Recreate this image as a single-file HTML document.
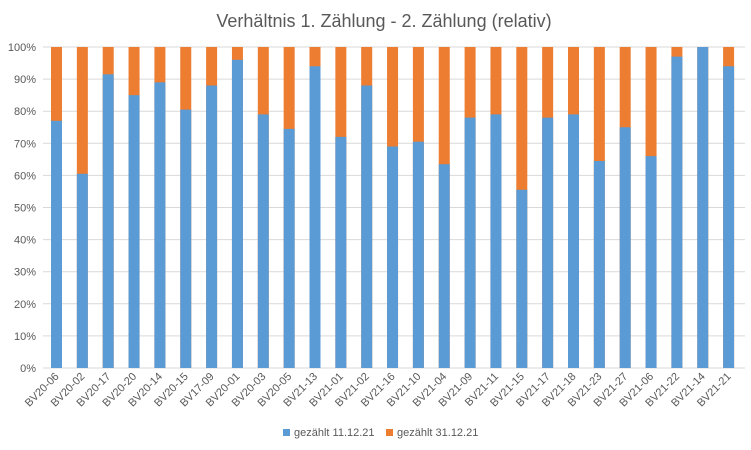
<!DOCTYPE html><html><head><style>body{margin:0;background:#fff}svg{display:block}</style></head><body>
<svg width="751" height="450" xmlns="http://www.w3.org/2000/svg" font-family="Liberation Sans, sans-serif">
<rect width="751" height="450" fill="#fff"/>
<text x="384" y="27" text-anchor="middle" font-size="18" fill="#595959">Verhältnis 1. Zählung - 2. Zählung (relativ)</text>
<g stroke="#d9d9d9">
<line x1="43" x2="745" y1="368" y2="368"/><line x1="43" x2="745" y1="335.9" y2="335.9"/><line x1="43" x2="745" y1="303.8" y2="303.8"/><line x1="43" x2="745" y1="271.7" y2="271.7"/><line x1="43" x2="745" y1="239.6" y2="239.6"/><line x1="43" x2="745" y1="207.5" y2="207.5"/><line x1="43" x2="745" y1="175.4" y2="175.4"/><line x1="43" x2="745" y1="143.3" y2="143.3"/><line x1="43" x2="745" y1="111.2" y2="111.2"/><line x1="43" x2="745" y1="79.1" y2="79.1"/><line x1="43" x2="745" y1="47" y2="47"/>
</g>
<g font-size="11" fill="#595959" text-anchor="end">
<text x="36" y="372">0%</text><text x="36" y="339.9">10%</text><text x="36" y="307.8">20%</text><text x="36" y="275.7">30%</text><text x="36" y="243.6">40%</text><text x="36" y="211.5">50%</text><text x="36" y="179.4">60%</text><text x="36" y="147.3">70%</text><text x="36" y="115.2">80%</text><text x="36" y="83.1">90%</text><text x="36" y="51">100%</text>
</g>
<g fill="#ED7D31">
<rect x="51" y="47" width="11" height="321"/><rect x="76.85" y="47" width="11" height="321"/><rect x="102.7" y="47" width="11" height="321"/><rect x="128.55" y="47" width="11" height="321"/><rect x="154.4" y="47" width="11" height="321"/><rect x="180.25" y="47" width="11" height="321"/><rect x="206.1" y="47" width="11" height="321"/><rect x="231.95" y="47" width="11" height="321"/><rect x="257.8" y="47" width="11" height="321"/><rect x="283.65" y="47" width="11" height="321"/><rect x="309.5" y="47" width="11" height="321"/><rect x="335.35" y="47" width="11" height="321"/><rect x="361.2" y="47" width="11" height="321"/><rect x="387.05" y="47" width="11" height="321"/><rect x="412.9" y="47" width="11" height="321"/><rect x="438.75" y="47" width="11" height="321"/><rect x="464.6" y="47" width="11" height="321"/><rect x="490.45" y="47" width="11" height="321"/><rect x="516.3" y="47" width="11" height="321"/><rect x="542.15" y="47" width="11" height="321"/><rect x="568" y="47" width="11" height="321"/><rect x="593.85" y="47" width="11" height="321"/><rect x="619.7" y="47" width="11" height="321"/><rect x="645.55" y="47" width="11" height="321"/><rect x="671.4" y="47" width="11" height="321"/><rect x="697.25" y="47" width="11" height="321"/><rect x="723.1" y="47" width="11" height="321"/>
</g>
<g fill="#5B9BD5">
<rect x="51" y="120.83" width="11" height="247.17"/><rect x="76.85" y="173.8" width="11" height="194.2"/><rect x="102.7" y="74.3" width="11" height="293.7"/><rect x="128.55" y="95.15" width="11" height="272.85"/><rect x="154.4" y="82.31" width="11" height="285.69"/><rect x="180.25" y="109.6" width="11" height="258.4"/><rect x="206.1" y="85.52" width="11" height="282.48"/><rect x="231.95" y="59.84" width="11" height="308.16"/><rect x="257.8" y="114.41" width="11" height="253.59"/><rect x="283.65" y="128.9" width="11" height="239.1"/><rect x="309.5" y="66.26" width="11" height="301.74"/><rect x="335.35" y="136.88" width="11" height="231.12"/><rect x="361.2" y="85.52" width="11" height="282.48"/><rect x="387.05" y="146.51" width="11" height="221.49"/><rect x="412.9" y="141.7" width="11" height="226.3"/><rect x="438.75" y="164.2" width="11" height="203.8"/><rect x="464.6" y="117.62" width="11" height="250.38"/><rect x="490.45" y="114.41" width="11" height="253.59"/><rect x="516.3" y="189.8" width="11" height="178.2"/><rect x="542.15" y="117.62" width="11" height="250.38"/><rect x="568" y="114.41" width="11" height="253.59"/><rect x="593.85" y="161" width="11" height="207"/><rect x="619.7" y="127.25" width="11" height="240.75"/><rect x="645.55" y="156.14" width="11" height="211.86"/><rect x="671.4" y="56.63" width="11" height="311.37"/><rect x="697.25" y="47" width="11" height="321"/><rect x="723.1" y="66.26" width="11" height="301.74"/>
</g>
<g font-size="11" fill="#595959" text-anchor="end">
<text transform="translate(59.5,377) rotate(-45)">BV20-06</text>
<text transform="translate(85.35,377) rotate(-45)">BV20-02</text>
<text transform="translate(111.2,377) rotate(-45)">BV20-17</text>
<text transform="translate(137.05,377) rotate(-45)">BV20-20</text>
<text transform="translate(162.9,377) rotate(-45)">BV20-14</text>
<text transform="translate(188.75,377) rotate(-45)">BV20-15</text>
<text transform="translate(214.6,377) rotate(-45)">BV17-09</text>
<text transform="translate(240.45,377) rotate(-45)">BV20-01</text>
<text transform="translate(266.3,377) rotate(-45)">BV20-03</text>
<text transform="translate(292.15,377) rotate(-45)">BV20-05</text>
<text transform="translate(318,377) rotate(-45)">BV21-13</text>
<text transform="translate(343.85,377) rotate(-45)">BV21-01</text>
<text transform="translate(369.7,377) rotate(-45)">BV21-02</text>
<text transform="translate(395.55,377) rotate(-45)">BV21-16</text>
<text transform="translate(421.4,377) rotate(-45)">BV21-10</text>
<text transform="translate(447.25,377) rotate(-45)">BV21-04</text>
<text transform="translate(473.1,377) rotate(-45)">BV21-09</text>
<text transform="translate(498.95,377) rotate(-45)">BV21-11</text>
<text transform="translate(524.8,377) rotate(-45)">BV21-15</text>
<text transform="translate(550.65,377) rotate(-45)">BV21-17</text>
<text transform="translate(576.5,377) rotate(-45)">BV21-18</text>
<text transform="translate(602.35,377) rotate(-45)">BV21-23</text>
<text transform="translate(628.2,377) rotate(-45)">BV21-27</text>
<text transform="translate(654.05,377) rotate(-45)">BV21-06</text>
<text transform="translate(679.9,377) rotate(-45)">BV21-22</text>
<text transform="translate(705.75,377) rotate(-45)">BV21-14</text>
<text transform="translate(731.6,377) rotate(-45)">BV21-21</text>
</g>
<rect x="283" y="429" width="7" height="7" fill="#5B9BD5"/><text x="294" y="436" font-size="11" fill="#595959">gezählt 11.12.21</text>
<rect x="386" y="429" width="7" height="7" fill="#ED7D31"/><text x="397" y="436" font-size="11" fill="#595959">gezählt 31.12.21</text>
</svg></body></html>
